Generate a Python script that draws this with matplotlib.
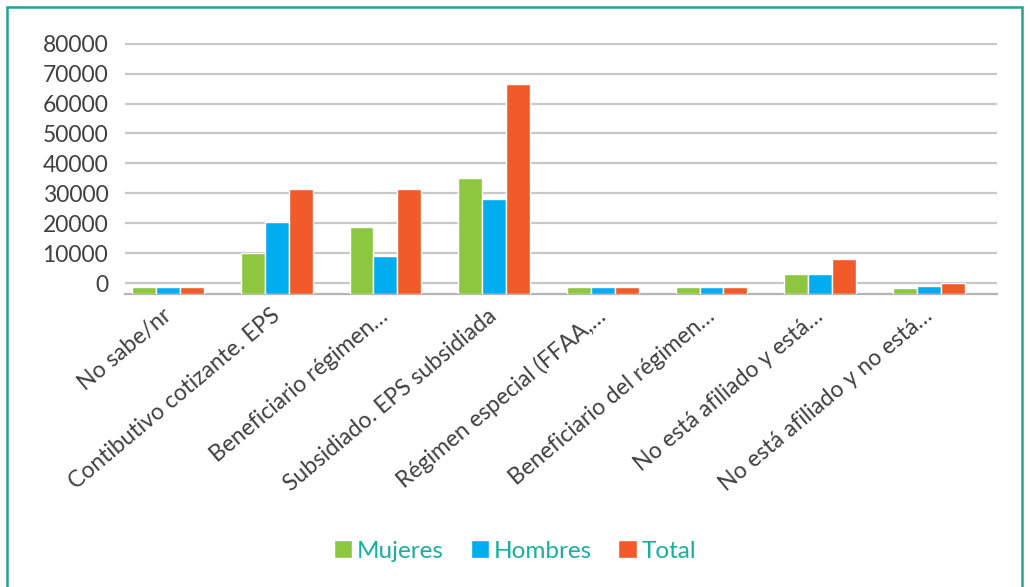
import numpy as np
import matplotlib
matplotlib.use("Agg")
from matplotlib import pyplot as plt
from matplotlib.patches import Rectangle

categories = ["No sabe/nr", "Contibutivo cotizante. EPS", "Beneficiario régimen…",
              "Subsidiado. EPS subsidiada", "Régimen especial (FFAA,…",
              "Beneficiario del régimen…", "No está afiliado y está…",
              "No está afiliado y no está…"]
mujeres = [-1100, 10200, 18900, 35100, -1200, -1200, 3100, -1600]
hombres = [-1100, 20400, 9200, 28300, -1200, -1200, 3100, -900]
total = [-1100, 31400, 31400, 66600, -1200, -1200, 8000, 100]
yticks = [0, 10000, 20000, 30000, 40000, 50000, 60000, 70000, 80000]
series = ["Mujeres", "Hombres", "Total"]
colors = ["#8dc63f", "#00aeef", "#f15a29"]

plt.rcParams['font.family'] = ['Lato', 'DejaVu Sans']
floor = -3570  # axis floor in the picture sits a bit below the 0 gridline

fig = plt.figure(figsize=(10.3, 5.87), dpi=100)
ax = fig.add_axes([125/1030, 1-294/587, 872/1030, 251/587])

x = np.arange(len(categories))
w = 0.22
for k, (vals, c, name) in enumerate(zip([mujeres, hombres, total], colors, series)):
    h = [v - floor for v in vals]
    ax.bar(x + (k-1)*w, h, w, bottom=floor, color=c, edgecolor='white', linewidth=1,
           label=name, zorder=3)

ax.set_ylim(floor, 80000 + 200)
ax.set_xlim(-0.396, 7.627)
ax.set_yticks(yticks)
ax.set_yticklabels([str(t) for t in yticks], fontsize=16.5, color='#404040')
ax.yaxis.grid(True, color='#c8c8c8', linewidth=1.6, zorder=0)
ax.tick_params(axis='y', length=0, pad=12)
ax.tick_params(axis='x', length=0, pad=8)
for s in ['top', 'right', 'left']:
    ax.spines[s].set_visible(False)
ax.spines['bottom'].set_color('#b5b5b5')
ax.spines['bottom'].set_linewidth(1.6)
ax.set_xticks(x - 0.06)
ax.set_xticklabels(categories, rotation=40, ha='right', rotation_mode='anchor',
                   fontsize=16.5, color='#404040')

leg = fig.legend(loc='center', bbox_to_anchor=(0.5, 1-551/587), ncol=3, frameon=False,
                 fontsize=17.5, handlelength=0.75, handleheight=0.75, handletextpad=0.2,
                 columnspacing=1.1)
for t in leg.get_texts():
    t.set_color('#1aae9f')

fig.patches.append(Rectangle((7/1030, -0.05), 1015/1030, 1.05-7/587, transform=fig.transFigure,
                             fill=False, edgecolor='#1aa88f', linewidth=1.8))

fig.savefig("out.png", dpi=100)
